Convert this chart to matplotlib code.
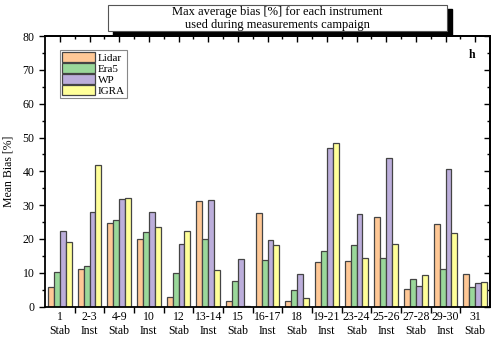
import numpy as np
import matplotlib.pyplot as plt
from matplotlib.patches import Rectangle
from matplotlib.ticker import MultipleLocator

plt.rcParams['font.family'] = ['Liberation Serif', 'DejaVu Serif']

# data
groups = ['1\nStab', '2-3\nInst', '4-9\nStab', '10\nInst', '12\nStab', '13-14\nInst',
          '15\nStab', '16-17\nInst', '18\nStab', '19-21\nInst', '23-24\nStab',
          '25-26\nInst', '27-28\nStab', '29-30\nInst', '31\nStab']
lidar = [5.9, 11.2, 24.8, 20.0, 2.9, 31.2, 1.6, 27.8, 1.7, 13.3, 13.6, 26.6, 5.1, 24.5, 9.7]
era5 = [10.3, 12.0, 25.7, 22.1, 9.8, 20.1, 7.5, 13.9, 5.0, 16.5, 18.1, 14.3, 8.3, 11.0, 5.7]
wp = [22.4, 28.0, 31.8, 28.0, 18.4, 31.6, 14.0, 19.6, 9.6, 47.0, 27.3, 44.1, 6.1, 40.6, 7.0]
igra = [19.0, 42.0, 32.0, 23.6, 22.3, 10.7, 0.3, 18.1, 2.5, 48.5, 14.5, 18.4, 9.3, 21.8, 7.4]

series = [('Lidar', lidar, '#ffc896'), ('Era5', era5, '#9ad89a'),
          ('WP', wp, '#bcaedb'), ('IGRA', igra, '#ffff99')]

fig = plt.figure(figsize=(5, 3.38), dpi=100)
ax = fig.add_axes([0.09, 0.093, 0.89, 0.8])

x = np.arange(len(groups))
w = 0.2
for i, (name, vals, col) in enumerate(series):
    ax.bar(x + (i - 1.5) * w, vals, w, color=col, edgecolor='#444444',
           linewidth=0.9, label=name)

ax.set_xlim(-0.5, len(groups) - 0.5)
ax.set_ylim(0, 80)
ax.set_xticks(x)
ax.set_xticklabels(groups, fontsize=8.5, linespacing=1.2)
ax.tick_params(axis='x', which='major', length=0, pad=3)
ax.set_xticks(x[:-1] + 0.5, minor=True)
ax.tick_params(axis='x', which='minor', bottom=True, direction='out', length=4, width=1)

ax.yaxis.set_major_locator(MultipleLocator(10))
ax.yaxis.set_minor_locator(MultipleLocator(5))
ax.tick_params(axis='y', which='major', direction='out', length=4, width=1, labelsize=8.5)
ax.tick_params(axis='y', which='minor', direction='out', length=2.5, width=1)
ax.set_ylabel('Mean Bias [%]', fontsize=8.5)
ax.yaxis.set_label_coords(-0.068, 0.5)

# top and right inward ticks
axt = ax.secondary_xaxis('top')
axt.set_xticks(x)
axt.set_xticks(x[:-1] + 0.5, minor=True)
axt.tick_params(which='major', direction='in', length=4, width=1, labeltop=False)
axt.tick_params(which='minor', direction='in', length=2.5, width=1)
axr = ax.secondary_yaxis('right')
axr.yaxis.set_major_locator(MultipleLocator(10))
axr.yaxis.set_minor_locator(MultipleLocator(5))
axr.tick_params(which='major', direction='in', length=4, width=1, labelright=False)
axr.tick_params(which='minor', direction='in', length=2.5, width=1)

for s in ax.spines.values():
    s.set_linewidth(1.3)
axt.spines['top'].set_linewidth(1.3)
axr.spines['right'].set_linewidth(1.3)

leg = ax.legend(loc='upper left', bbox_to_anchor=(0.034, 0.948), fontsize=8,
                fancybox=False, edgecolor='#888888', framealpha=1,
                handlelength=2.9, handleheight=0.9, handletextpad=0.3,
                labelspacing=0.05, borderpad=0.2, borderaxespad=0)
leg.get_frame().set_linewidth(0.8)

ax.text(0.96, 0.93, 'h', transform=ax.transAxes, fontsize=8.5, fontweight='bold',
        ha='center', va='center')

# title box with shadow
bx, by, bw, bh = 0.216, 0.908, 0.678, 0.077
fig.patches.append(Rectangle((bx + 0.01, by - 0.012), bw, bh, transform=fig.transFigure,
                             facecolor='black', edgecolor='black', zorder=5))
fig.patches.append(Rectangle((bx, by), bw, bh, transform=fig.transFigure,
                             facecolor='white', edgecolor='#555555', linewidth=0.8, zorder=6))
fig.text(bx + bw / 2, by + bh / 2, 'Max average bias [%] for each instrument\nused during measurements campaign',
         ha='center', va='center', fontsize=9, linespacing=1.1, zorder=7)

fig.savefig('out.png', dpi=100)
